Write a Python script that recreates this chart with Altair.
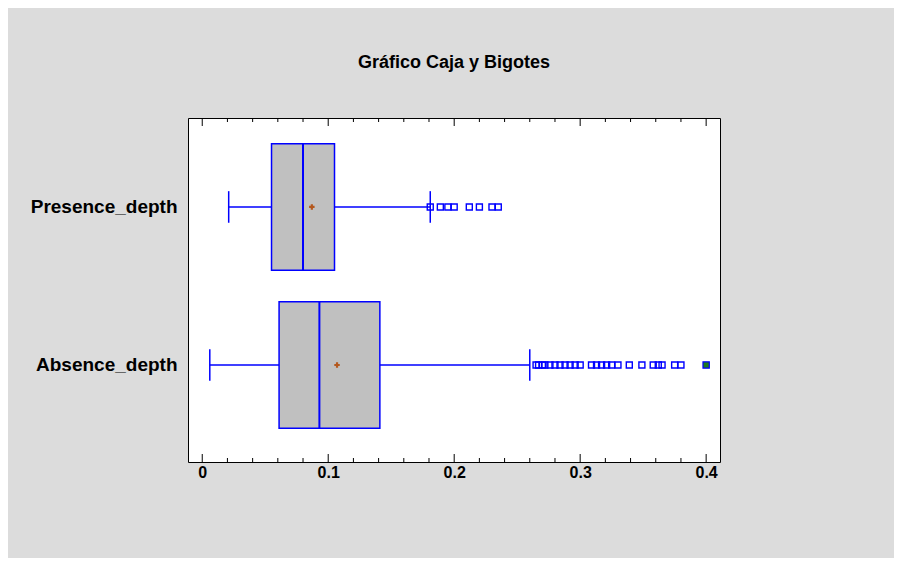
import altair as alt
import pandas as pd

# ---- data ----
categories = ["Presence_depth", "Absence_depth"]
ypos = [2, 1]
whisker_lo = [0.021, 0.006]
q1 = [0.055, 0.061]
median = [0.080, 0.093]
q3 = [0.105, 0.141]
whisker_hi = [0.181, 0.260]
means = [0.087, 0.107]

presence_outliers = [0.181, 0.189, 0.195, 0.200, 0.212, 0.220, 0.230, 0.235]
absence_outliers = [0.265, 0.267, 0.270, 0.272, 0.276, 0.280, 0.284, 0.288, 0.292, 0.296, 0.300,
                    0.309, 0.313, 0.317, 0.321, 0.325, 0.330, 0.339, 0.349, 0.358, 0.362,
                    0.365, 0.375, 0.380]
absence_far = [0.400]

major_ticks = [0, 0.1, 0.2, 0.3, 0.4]
minor_ticks = [0.02, 0.04, 0.06, 0.08, 0.12, 0.14, 0.16, 0.18, 0.22, 0.24, 0.26, 0.28,
               0.32, 0.34, 0.36, 0.38]

# ---- tables ----
boxes = pd.DataFrame({"cat": categories, "y": ypos, "lo": whisker_lo, "q1": q1,
                      "med": median, "q3": q3, "hi": whisker_hi, "mean": means})
outl = pd.DataFrame({"v": presence_outliers + absence_outliers,
                     "y": [2] * len(presence_outliers) + [1] * len(absence_outliers)})
far = pd.DataFrame({"v": absence_far, "y": [1] * len(absence_far)})
ticks = pd.DataFrame({"t": major_ticks + minor_ticks,
                      "len": [8] * len(major_ticks) + [4] * len(minor_ticks)})

FONT = "Liberation Sans"
BLUE = "#0000FF"
xdom = [-0.0113, 0.411]
ydom = [0.386, 2.563]

xs = alt.Scale(domain=xdom, nice=False, zero=False)
ys = alt.Scale(domain=ydom, nice=False, zero=False)

xaxis = alt.Axis(values=major_ticks, format="~g", ticks=False, domain=False, grid=False,
                 labelFont=FONT, labelFontSize=16, labelFontWeight="bold",
                 labelColor="black", labelPadding=2, title=None)
yaxis = alt.Axis(values=[1, 2],
                 labelExpr="datum.value == 2 ? 'Presence_depth' : 'Absence_depth'",
                 ticks=False, domain=False, grid=False, labelFont=FONT, labelFontSize=19,
                 labelFontWeight="bold", labelColor="black", labelPadding=11, title=None)

base = alt.Chart(boxes)

whisk_lo = base.mark_rule(color=BLUE, strokeWidth=1.5).encode(
    x=alt.X("lo:Q", scale=xs, axis=xaxis), x2="q1:Q",
    y=alt.Y("y:Q", scale=ys, axis=yaxis))
whisk_hi = base.mark_rule(color=BLUE, strokeWidth=1.5).encode(
    x=alt.X("q3:Q", scale=xs), x2="hi:Q", y=alt.Y("y:Q", scale=ys))

caps_lo = base.transform_calculate(a="datum.y - 0.1", b="datum.y + 0.1").mark_rule(
    color=BLUE, strokeWidth=1.5).encode(
    x=alt.X("lo:Q", scale=xs), y=alt.Y("a:Q", scale=ys), y2="b:Q")
caps_hi = base.transform_calculate(a="datum.y - 0.1", b="datum.y + 0.1").mark_rule(
    color=BLUE, strokeWidth=1.5).encode(
    x=alt.X("hi:Q", scale=xs), y=alt.Y("a:Q", scale=ys), y2="b:Q")

box = base.transform_calculate(a="datum.y - 0.4", b="datum.y + 0.4").mark_rect(
    fill="#C0C0C0", stroke=BLUE, strokeWidth=1.5).encode(
    x=alt.X("q1:Q", scale=xs), x2="q3:Q", y=alt.Y("a:Q", scale=ys), y2="b:Q")

med = base.transform_calculate(a="datum.y - 0.4", b="datum.y + 0.4").mark_rule(
    color=BLUE, strokeWidth=2).encode(
    x=alt.X("med:Q", scale=xs), y=alt.Y("a:Q", scale=ys), y2="b:Q")

mean_pt = base.mark_point(shape="cross", filled=True, color="#B4581E", size=30,
                          opacity=1).encode(
    x=alt.X("mean:Q", scale=xs), y=alt.Y("y:Q", scale=ys))

out_pts = alt.Chart(outl).mark_point(shape="square", filled=False, color=BLUE, size=36,
                                     strokeWidth=1.4, opacity=1).encode(
    x=alt.X("v:Q", scale=xs), y=alt.Y("y:Q", scale=ys))

far_pts = alt.Chart(far).mark_point(shape="square", filled=True, fill="#1E7A1E",
                                    stroke=BLUE, strokeWidth=1.2, size=40, opacity=1).encode(
    x=alt.X("v:Q", scale=xs), y=alt.Y("y:Q", scale=ys))

tick_layers = []
for L in [8, 4]:
    sub = alt.Chart(ticks).transform_filter(f"datum.len == {L}")
    tick_layers.append(sub.mark_rule(color="black", strokeWidth=1).encode(
        x=alt.X("t:Q", scale=xs), y=alt.value(0), y2=alt.value(L)))
    tick_layers.append(sub.mark_rule(color="black", strokeWidth=1).encode(
        x=alt.X("t:Q", scale=xs), y=alt.value(344), y2=alt.value(344 - L)))

chart = alt.layer(
    whisk_lo, whisk_hi, caps_lo, caps_hi, box, med, mean_pt, out_pts, far_pts,
    *tick_layers
).properties(
    width=532, height=344,
    title=alt.TitleParams("Gráfico Caja y Bigotes", font=FONT, fontSize=18,
                          fontWeight="bold", color="black", offset=46, anchor="middle"),
    background="#DCDCDC",
    padding={"left": 180, "top": 110, "right": 174, "bottom": 96},
    autosize=alt.AutoSizeParams(type="none"),
).configure_view(stroke="black", strokeWidth=1, fill="white")

chart.save("out.html", embed_options={"renderer": "svg", "actions": False})
